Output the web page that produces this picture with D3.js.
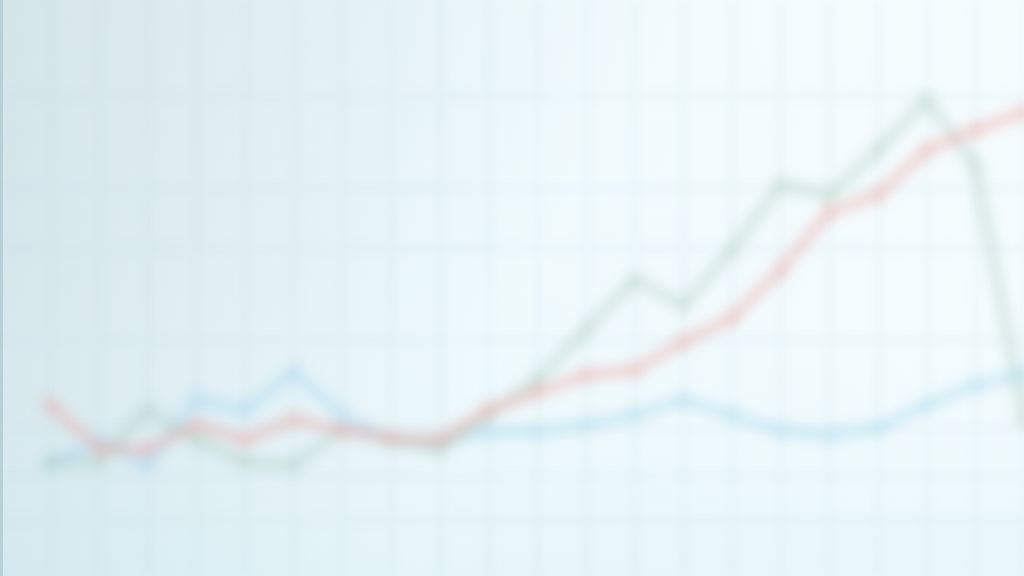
<!DOCTYPE html>
<html><head><meta charset="utf-8">
<script src="https://cdn.jsdelivr.net/npm/d3@7"></script>
<style>html,body{margin:0;padding:0;background:#e6f4f8;}svg{display:block;}</style>
</head><body>
<svg id="chart" width="1024" height="576"></svg>
<script>
const periods = d3.range(21);
const redSeries   = [17.75,7,6.5,12.75,9,14,11.5,9.5,9,16.5,21,25.25,26.5,33.5,39.5,51.5,66,70.25,81.5,86.5,91];
const greenSeries = [3.5,3.5,16.5,9,3.5,2.75,11.5,9,6.5,15.25,24,36.5,49,42.75,56.5,72.75,70.25,81.5,94,77.75,14];
const blueSeries  = [2.75,9,2.75,19,16.5,26,15.25,9,9,11,11,12.75,15.25,19,15.25,11.5,10.25,12,17.75,22.75,25.25];
const gridValues  = [-11,0,12,34,57,72,95];

const W = 1024, H = 576;
const svg = d3.select('#chart');
const x = d3.scaleLinear().domain([0, 20]).range([50, 1024]);
const y = d3.scaleLinear().domain([0, 100]).range([476, 76]);

const defs = svg.append('defs');
const bg = defs.append('linearGradient').attr('id','bg').attr('x1','0').attr('y1','0').attr('x2','1').attr('y2','0.25');
bg.append('stop').attr('offset','0').attr('stop-color','#cadfe5');
bg.append('stop').attr('offset','0.3').attr('stop-color','#dcedf2');
bg.append('stop').attr('offset','0.6').attr('stop-color','#eefafd');
bg.append('stop').attr('offset','1').attr('stop-color','#f3fcfe');
const vg = defs.append('linearGradient').attr('id','vg').attr('x1','0').attr('y1','0').attr('x2','0').attr('y2','1');
vg.append('stop').attr('offset','0').attr('stop-color','#ffffff').attr('stop-opacity',0.2);
vg.append('stop').attr('offset','0.5').attr('stop-color','#ffffff').attr('stop-opacity',0.1);
vg.append('stop').attr('offset','1').attr('stop-color','#c8e6ee').attr('stop-opacity',0.25);
defs.append('filter').attr('id','blurL').attr('x','-10%').attr('y','-10%').attr('width','120%').attr('height','120%')
  .append('feGaussianBlur').attr('stdDeviation',7);
defs.append('filter').attr('id','blurG').attr('x','-10%').attr('y','-10%').attr('width','120%').attr('height','120%')
  .append('feGaussianBlur').attr('stdDeviation',5);

svg.append('rect').attr('width',W).attr('height',H).attr('fill','url(#bg)');
svg.append('rect').attr('width',W).attr('height',H).attr('fill','url(#vg)');
svg.append('rect').attr('x',0).attr('y',0).attr('width',3).attr('height',H).attr('fill','#b8d0d7');

// faint grid
const grid = svg.append('g').attr('filter','url(#blurG)').attr('opacity',0.22);
const xAxisGrid = d3.axisBottom(x).tickValues(periods).tickSize(-H).tickFormat('');
grid.append('g').attr('transform',`translate(0,${H})`).call(xAxisGrid)
  .call(g=>g.select('.domain').remove())
  .call(g=>g.selectAll('line').attr('stroke','#b9d4dc').attr('stroke-width',3));
const yAxisGrid = d3.axisLeft(y).tickValues(gridValues).tickSize(-W).tickFormat('');
grid.append('g').call(yAxisGrid)
  .call(g=>g.select('.domain').remove())
  .call(g=>g.selectAll('line').attr('stroke','#c6dde4').attr('stroke-width',4));

const line = d3.line().x((d,i)=>x(i)).y(d=>y(d));
const series = [
  {name:'blue',  values: blueSeries,  color:'#98d0ec', op:0.6},
  {name:'green', values: greenSeries, color:'#a6c8b8', op:0.6},
  {name:'red',   values: redSeries,   color:'#eb9e98', op:0.65}
];
const lines = svg.append('g').attr('filter','url(#blurL)');
series.forEach(s=>{
  const g = lines.append('g').attr('opacity',s.op);
  g.append('path').datum(s.values).attr('d',line)
    .attr('fill','none').attr('stroke',s.color).attr('stroke-width',7)
    .attr('stroke-linejoin','round').attr('stroke-linecap','round');
  g.selectAll(null).data(s.values).enter().append('circle')
    .attr('cx',(d,i)=>x(i)).attr('cy',d=>y(d)).attr('r',6.5)
    .attr('fill',s.color);
});
</script>
</body></html>
